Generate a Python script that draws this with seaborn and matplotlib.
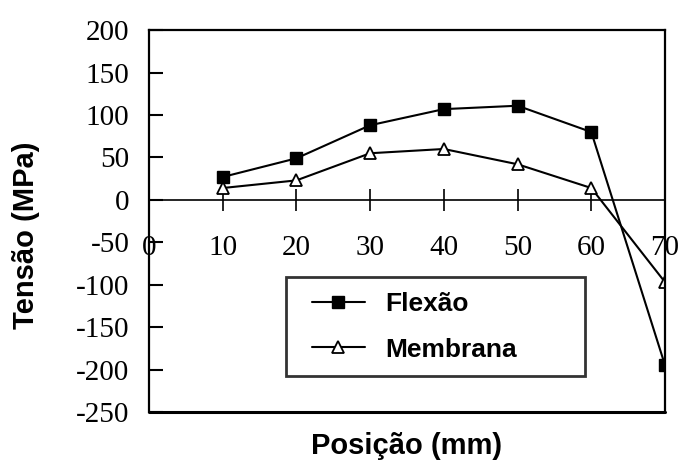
import matplotlib
matplotlib.use("Agg")
import matplotlib.pyplot as plt
from matplotlib.lines import Line2D
from matplotlib.legend_handler import HandlerLine2D
import seaborn as sns
import pandas as pd

posicao = [10, 20, 30, 40, 50, 60, 70]
flexao = [27, 49, 88, 107, 111, 80, -195]
membrana = [14, 23, 55, 60, 42, 14, -97]
x_ticks = [0, 10, 20, 30, 40, 50, 60, 70]
y_ticks = [-250, -200, -150, -100, -50, 0, 50, 100, 150, 200]

sns.set_theme(style="white")
plt.rcParams['font.family'] = ['Liberation Sans', 'DejaVu Sans']
plt.rcParams['text.color'] = 'black'
plt.rcParams['axes.labelcolor'] = 'black'
plt.rcParams['xtick.color'] = 'black'
plt.rcParams['ytick.color'] = 'black'

fig = plt.figure(figsize=(6.8, 4.65), dpi=100)
ax = fig.add_axes([0.219, 0.114, 0.759, 0.821])

df_f = pd.DataFrame({"pos": posicao, "val": flexao})
df_m = pd.DataFrame({"pos": posicao, "val": membrana})

sns.lineplot(data=df_f, x="pos", y="val", ax=ax, color="black", lw=1.5,
             marker="s", markersize=8, mfc="black", mec="black", mew=1.0,
             label="Flexão")
sns.lineplot(data=df_m, x="pos", y="val", ax=ax, color="black", lw=1.5,
             marker="^", markersize=8, mfc="white", mec="black", mew=1.3,
             label="Membrana")

for s in ax.spines.values():
    s.set_color("black")
    s.set_linewidth(1.6)
ax.spines['bottom'].set_position(('data', 0))
ax.spines['bottom'].set_linewidth(1.2)
ax.axhline(-250, color="black", lw=2.2, clip_on=False)

ax.set_xlim(0, 70)
ax.set_ylim(-250, 200)
ax.set_xticks(x_ticks)
ax.set_yticks(y_ticks)

serif = ['Liberation Serif', 'DejaVu Serif']
ax.set_xticklabels([str(v) for v in x_ticks], fontfamily=serif, fontsize=21)
ax.set_yticklabels([str(v) for v in y_ticks], fontfamily=serif, fontsize=21)

ax.tick_params(axis='x', direction='inout', length=16, width=1.2, pad=17,
               colors='black', bottom=True)
ax.tick_params(axis='y', direction='in', length=10, width=1.5, pad=14,
               colors='black', left=True)

ax.set_xlabel("Posição (mm)", fontsize=21, fontweight='bold')
ax.set_ylabel("Tensão (MPa)", fontsize=21, fontweight='bold')
ax.xaxis.set_label_coords(0.5, -0.052)
ax.yaxis.set_label_coords(-0.211, 0.463)

leg = ax.legend(loc='lower left', bbox_to_anchor=(0.265, 0.094, 0.58, 0.252),
                mode='expand', frameon=True, fancybox=False, fontsize=19,
                handlelength=2.45, handletextpad=0.76, labelspacing=0.82,
                borderpad=0.55, borderaxespad=0,
                handler_map={Line2D: HandlerLine2D(xpad=0.45)})
for t in leg.get_texts():
    t.set_fontweight('bold')
leg.get_frame().set_edgecolor('black')
leg.get_frame().set_linewidth(2.0)

fig.savefig("out.png", dpi=100)
